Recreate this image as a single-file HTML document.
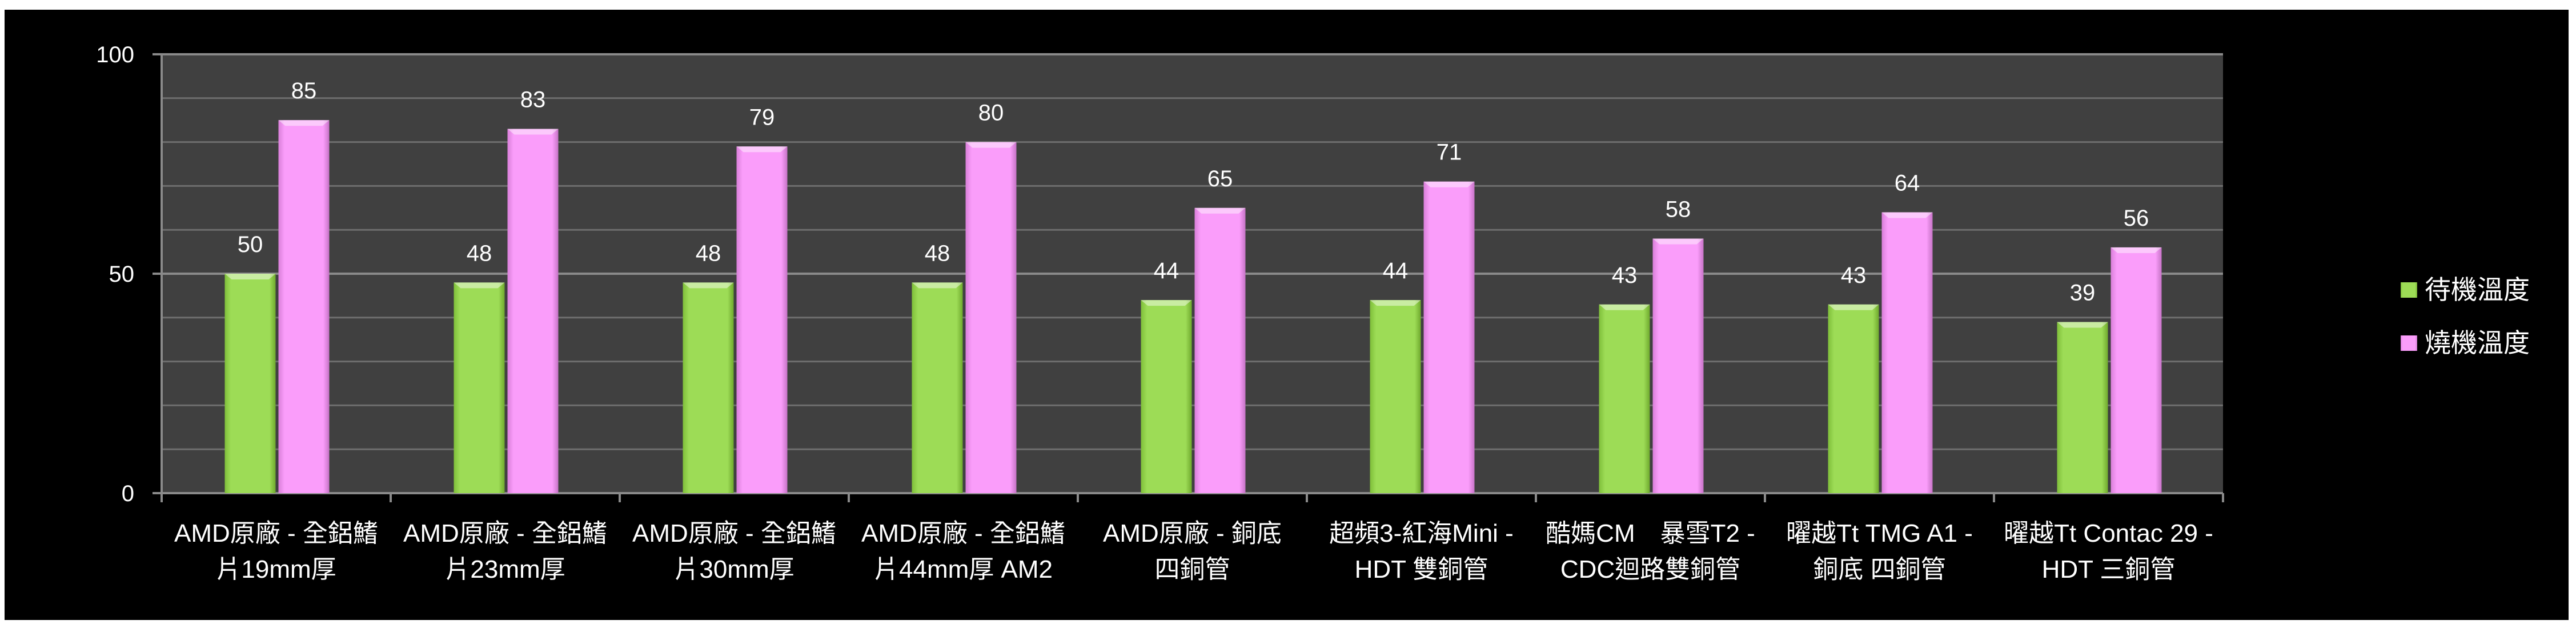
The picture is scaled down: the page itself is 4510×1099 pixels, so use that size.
<!DOCTYPE html>
<html><head><meta charset="utf-8"><style>
html,body{margin:0;padding:0;background:#fff;}
svg{display:block;}
text{font-family:"Liberation Sans","Noto Sans CJK TC",sans-serif;fill:#fff;}
</style></head><body>
<svg id="chart" width="4510" height="1099" xmlns="http://www.w3.org/2000/svg">
<defs>
<linearGradient id="gG" x1="0" x2="1" y1="0" y2="0"><stop offset="0" stop-color="#7fbf3a"/><stop offset="0.12" stop-color="#9ddc56"/><stop offset="0.88" stop-color="#9ddc56"/><stop offset="1" stop-color="#6fa92e"/></linearGradient>
<linearGradient id="gP" x1="0" x2="1" y1="0" y2="0"><stop offset="0" stop-color="#d97fd9"/><stop offset="0.12" stop-color="#fa9dfa"/><stop offset="0.88" stop-color="#fa9dfa"/><stop offset="1" stop-color="#c673c6"/></linearGradient>
</defs>
<rect x="8" y="17" width="4489" height="1068" fill="#000"/>
<rect x="283" y="95" width="3609" height="768" fill="#404040"/>
<g id="grid"></g><g id="bars"></g><g id="labels"></g>
<g>
<rect x="4203" y="494" width="29" height="27" fill="url(#gG)"/>
<text x="4245" y="523" font-size="46">待機溫度</text>
<rect x="4203" y="587" width="29" height="27" fill="url(#gP)"/>
<text x="4245" y="616" font-size="46">燒機溫度</text>
</g>
</svg>
<script>
const categories1 = ["AMD原廠 - 全鋁鰭","AMD原廠 - 全鋁鰭","AMD原廠 - 全鋁鰭","AMD原廠 - 全鋁鰭","AMD原廠 - 銅底","超頻3-紅海Mini -","酷媽CM　暴雪T2 -","曜越Tt TMG A1 -","曜越Tt Contac 29 -"];
const categories2 = ["片19mm厚","片23mm厚","片30mm厚","片44mm厚 AM2","四銅管","HDT 雙銅管","CDC迴路雙銅管","銅底 四銅管","HDT 三銅管"];
const idleValues = [50,48,48,48,44,44,43,43,39];
const loadValues = [85,83,79,80,65,71,58,64,56];
const yTicks = [0,50,100];
const NS="http://www.w3.org/2000/svg";
const L=283,R=3892,T=95,B=863,yMax=100;
const n=categories1.length, cw=(R-L)/n;
const y=v=>B-(v/yMax)*(B-T);
const xc=i=>L+cw*(i+0.5);
function mk(tag,attrs,parent){const e=document.createElementNS(NS,tag);for(const k in attrs)e.setAttribute(k,attrs[k]);parent.appendChild(e);return e;}
const grid=document.getElementById('grid'),bars=document.getElementById('bars'),labels=document.getElementById('labels');
for(let v=10;v<=yMax;v+=10){
  const ln=mk('line',{x1:L,x2:R,y1:y(v),y2:y(v),stroke:(v%50===0)?'#8a8a8a':'#6e6e6e','stroke-width':(v%50===0)?4:3},grid);
  
  
}
let a=mk('line',{x1:L,x2:L,y1:T,y2:B,stroke:'#8a8a8a','stroke-width':4},grid);


a=mk('line',{x1:L,x2:R,y1:B,y2:B,stroke:'#8a8a8a','stroke-width':4},grid);


yTicks.forEach(v=>{
  const t=mk('line',{x1:L-16,x2:L,y1:y(v),y2:y(v),stroke:'#8a8a8a','stroke-width':4},grid);
  
  
  const tx=mk('text',{x:235,y:y(v)+14,'font-size':40,'text-anchor':'end'},labels);
  tx.textContent=v;
  
  
});
for(let i=0;i<=n;i++){
  const t=mk('line',{x1:L+cw*i,x2:L+cw*i,y1:B,y2:B+16,stroke:'#8a8a8a','stroke-width':4},grid);
  
  
}
function bar(x,v,fill,name){
  const g=mk('g',{},bars);
  
  
  const top=y(v),w=89;
  mk('rect',{x:x,y:top,width:w,height:B-top,fill:fill},g);
  mk('polygon',{points:`${x},${top} ${x+w},${top} ${x+w-12},${top+10} ${x+12},${top+10}`,fill:'#fff','fill-opacity':0.45},g);
  const tx=mk('text',{x:x+w/2,y:top-38,'font-size':40,'text-anchor':'middle'},labels);
  tx.textContent=v;
  
  
}
for(let i=0;i<n;i++){
  bar(xc(i)-90,idleValues[i],'url(#gG)','bar-idle-'+i);
  bar(xc(i)+4,loadValues[i],'url(#gP)','bar-load-'+i);
  const t1=mk('text',{x:xc(i),y:948,'font-size':44,'text-anchor':'middle'},labels);
  t1.textContent=categories1[i];
  
  
  const t2=mk('text',{x:xc(i),y:1011,'font-size':44,'text-anchor':'middle'},labels);
  t2.textContent=categories2[i];
  
  
}
</script>
</body></html>
